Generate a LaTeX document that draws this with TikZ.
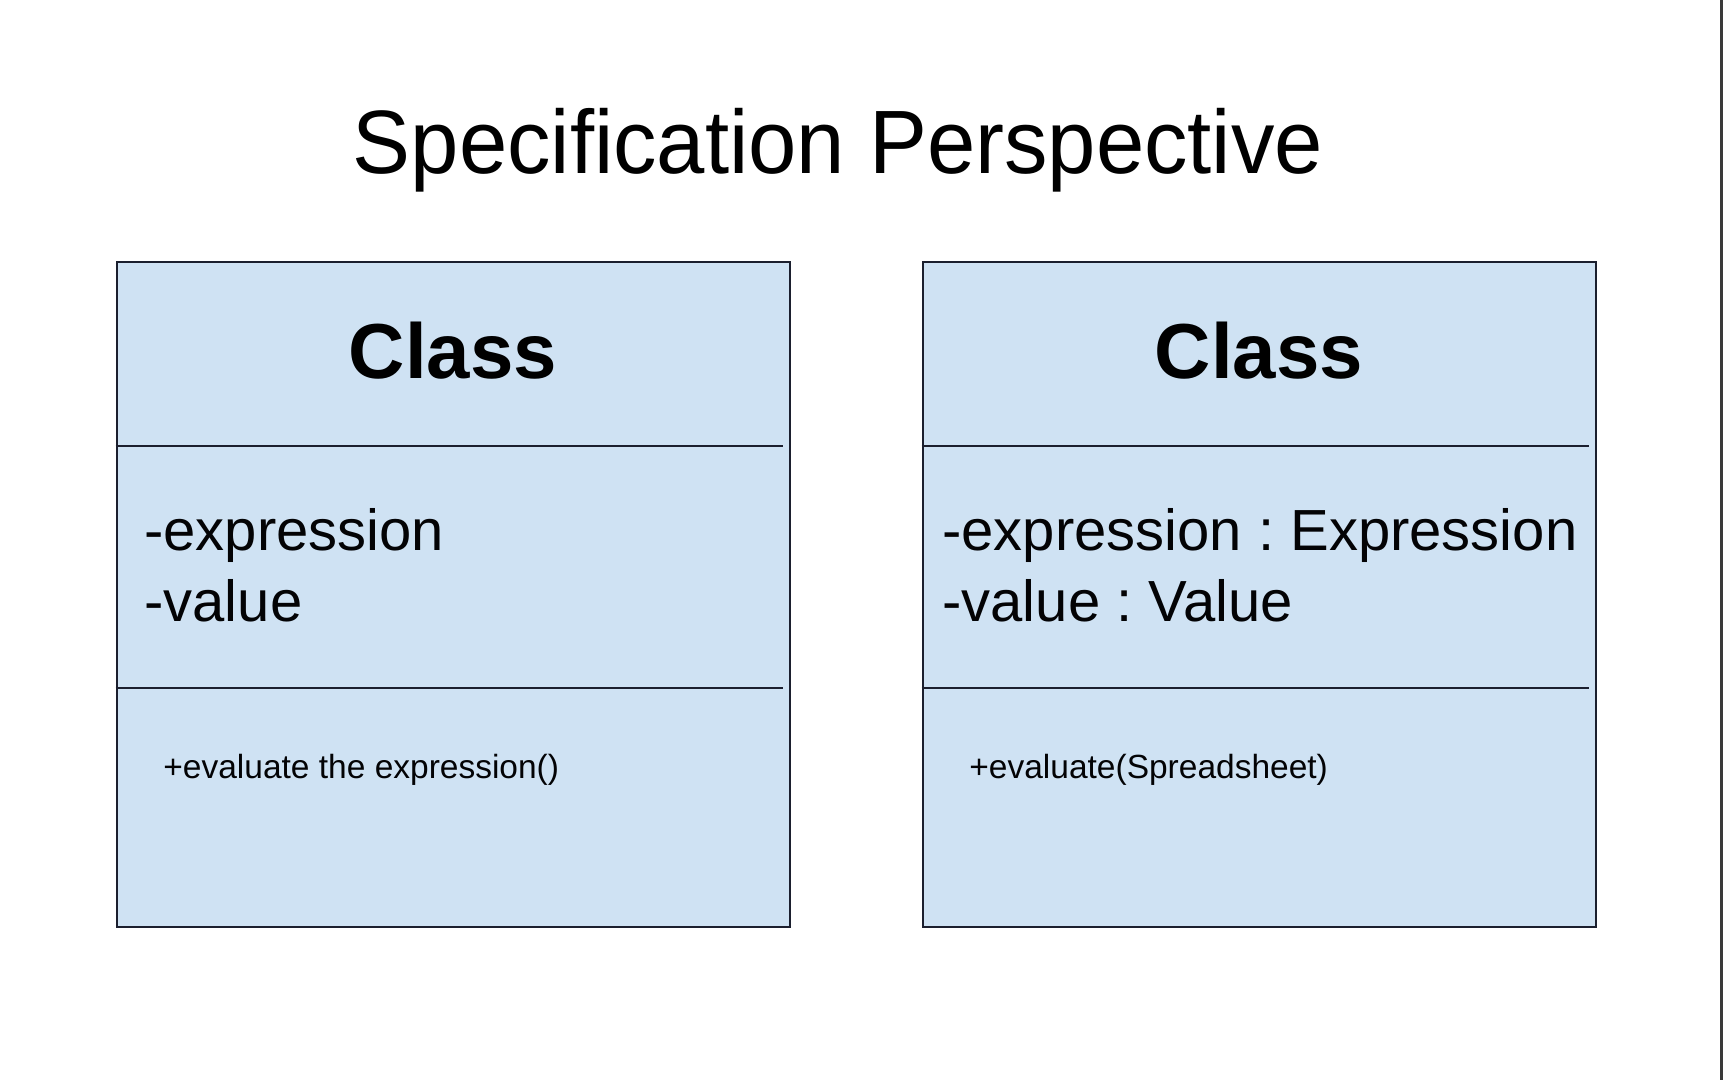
\documentclass[tikz,border=0pt]{standalone}
\usepackage{fontspec}
\setmainfont{Liberation Sans}
\frenchspacing
\definecolor{umlfill}{HTML}{CFE2F3}
\definecolor{umlline}{HTML}{1B1F2E}
\definecolor{edgegray}{HTML}{3A3A3A}
\begin{document}
\begin{tikzpicture}[x=0.5pt,y=-0.5pt,
  classbox/.style={draw=umlline, fill=umlfill, line width=1pt,
    minimum width=336.5pt, minimum height=332.6pt, inner sep=0pt},
  divider/.style={draw=umlline, line width=1pt},
  titletext/.style={anchor=base, inner sep=0pt, text=black,
    font=\fontsize{45}{54}\selectfont},
  classname/.style={anchor=base, inner sep=0pt, text=black,
    font=\fontsize{39}{46}\selectfont\bfseries},
  attr/.style={anchor=base west, inner sep=0pt, text=black!90!umlline,
    font=\fontsize{29}{35.5}\selectfont},
  method/.style={anchor=base west, inner sep=0pt, text=black!90!umlline,
    font=\fontsize{16.75}{20}\selectfont}]
\useasboundingbox[fill=white] (0,0) rectangle (1724,1080);

% slide edge on the right
\draw[edgegray, line width=1.25pt] (1721.5,0) -- (1721.5,1080);

% title
\node[titletext] (title) at (838,174) {\scalebox{0.965}[1]{Specification Perspective}};

% left class: analysis-level attributes
\node[classbox] (L) at (453,594.8) {};
\draw[divider] ([yshift=-92.6pt]L.north west) -- ([yshift=-92.6pt,xshift=-4pt]L.north east);
\draw[divider] ([yshift=-213.6pt]L.north west) -- ([yshift=-213.6pt,xshift=-4pt]L.north east);
\node[classname] (Lname) at (453,379) {Class};
\node[attr] (Lexpr) at (144,550) {-expression};
\node[attr] (Lval) at (144,621) {-value};
\node[method] (Lop) at (163,778) {+evaluate the expression()};

% right class: typed attributes
\node[classbox] (R) at (1259,594.8) {};
\draw[divider] ([yshift=-92.6pt]R.north west) -- ([yshift=-92.6pt,xshift=-4pt]R.north east);
\draw[divider] ([yshift=-213.6pt]R.north west) -- ([yshift=-213.6pt,xshift=-4pt]R.north east);
\node[classname] (Rname) at (1259,379) {Class};
\node[attr] (Rexpr) at (942,550) {-expression : Expression};
\node[attr] (Rval) at (942,621) {-value : Value};
\node[method] (Rop) at (969,778) {+evaluate(Spreadsheet)};
\end{tikzpicture}
\end{document}
